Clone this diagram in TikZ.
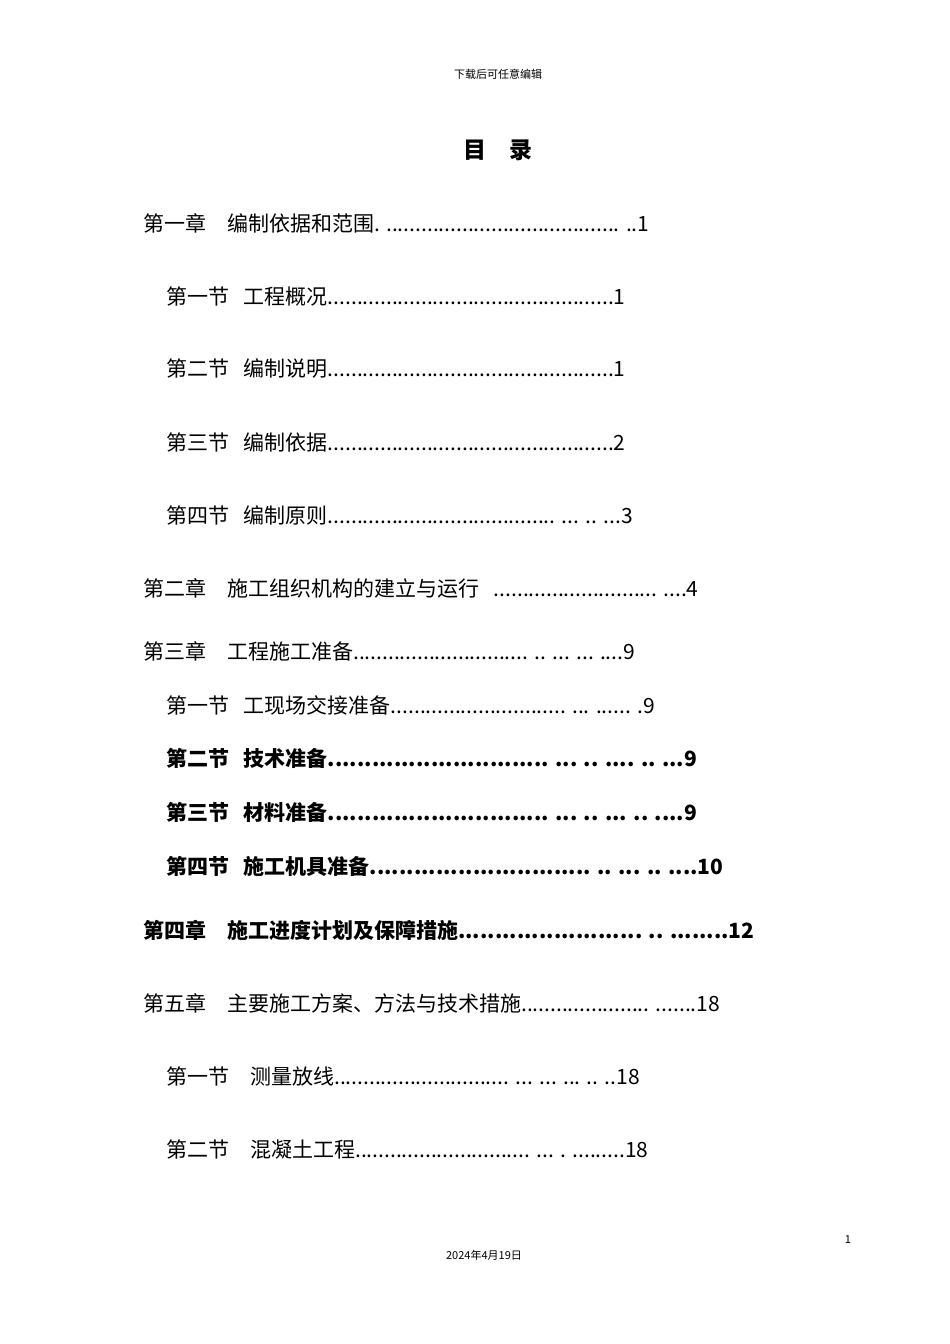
\documentclass[tikz,border=0pt]{standalone}
\usepackage{fontspec}
\setmainfont{Noto Sans CJK SC}
\tikzset{entry/.style={anchor=west,inner sep=0pt,font=\fontsize{21}{24}\selectfont},
bentry/.style={entry,font=\fontsize{21}{24}\selectfont\bfseries},
small/.style={inner sep=0pt,font=\fontsize{11}{13}\selectfont}}
\begin{document}
\begin{tikzpicture}[x=1pt,y=-1pt]
\useasboundingbox (0,0) rectangle (950,1344);
\node[small] (hd) at (498,74) {下载后可任意编辑};
\node[inner sep=0pt,font=\fontsize{23}{26}\selectfont\bfseries] (tt) at (498,150) {目\hspace{1em}录};
\node[entry] (a1) at (143,223) {第一章\hspace{1em}编制依据和范围. ........................................ ..1};
\node[entry] (a2) at (166,296) {第一节\hspace{0.7em}工程概况.................................................1};
\node[entry] (a3) at (166,369) {第二节\hspace{0.7em}编制说明.................................................1};
\node[entry] (a4) at (166,442) {第三节\hspace{0.7em}编制依据.................................................2};
\node[entry] (a5) at (166,515) {第四节\hspace{0.7em}编制原则....................................... ... .. ...3};
\node[entry] (a6) at (143,588) {第二章\hspace{1em}施工组织机构的建立与运行\hspace{0.7em}............................ ....4};
\node[entry] (a7) at (143,651) {第三章\hspace{1em}工程施工准备.............................. .. ... ... ....9};
\node[entry] (a8) at (166,705) {第一节\hspace{0.7em}工现场交接准备.............................. ... ...... .9};
\node[bentry] (a9) at (166,758) {第二节\hspace{0.7em}技术准备.............................. ... .. .... .. ...9};
\node[bentry] (a10) at (166,812) {第三节\hspace{0.7em}材料准备.............................. ... .. ... .. ....9};
\node[bentry] (a11) at (166,866) {第四节\hspace{0.7em}施工机具准备.............................. .. ... .. ....10};
\node[bentry] (a12) at (143,930) {第四章\hspace{1em}施工进度计划及保障措施......................... .. ........12};
\node[entry] (a13) at (143,1003) {第五章\hspace{1em}主要施工方案、方法与技术措施...................... .......18};
\node[entry] (a14) at (166,1076) {第一节\hspace{1em}测量放线.............................. ... ... ... .. ..18};
\node[entry] (a15) at (166,1149) {第二节\hspace{1em}混凝土工程.............................. ... . .........18};
\node[small] (pg) at (848,1240) {1};
\node[small] (dt) at (484,1255) {2024年4月19日};
\end{tikzpicture}
\end{document}
